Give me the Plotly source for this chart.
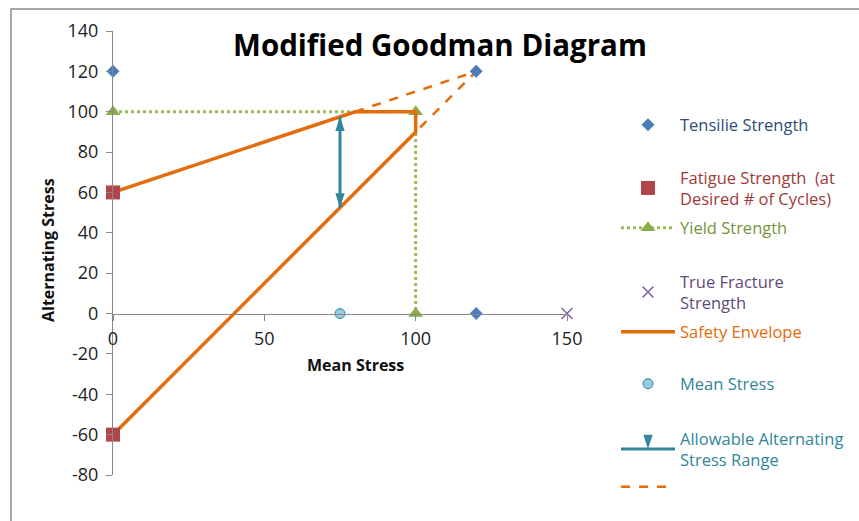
import plotly.graph_objects as go

# ---- data ----
tensile_x = [0, 120, 120]
tensile_y = [120, 0, 120]
fatigue_x = [0, 0]
fatigue_y = [60, -60]
yield_x = [0, 100, 100]
yield_y = [100, 100, 0]
fracture_x = [150]
fracture_y = [0]
safety_x = [0, 80, 100, 100, 0]
safety_y = [60, 100, 100, 90, -60]
mean_x = [75]
mean_y = [0]
range_x = [75, 75]
range_y = [52.5, 97.5]
dash_x = [80, 120, 100]
dash_y = [100, 120, 90]

x_ticks = [0, 50, 100, 150]
y_ticks = [-80, -60, -40, -20, 0, 20, 40, 60, 80, 100, 120, 140]

FONT = "Open Sans"
W, H = 859, 521
ML, MR, MT, MB = 113, 292, 31, 46
PW, PH = W - ML - MR, H - MT - MB


def px_x(p):
    return (p - ML) / PW


def px_y(p):
    return (H - MB - p) / PH


fig = go.Figure()

fig.add_trace(go.Scatter(x=dash_x, y=dash_y, mode="lines", name="",
                         line=dict(color="#E46C0A", width=2.5, dash="dash"),
                         legend="legend8", cliponaxis=False))
fig.add_trace(go.Scatter(x=yield_x, y=yield_y, mode="lines+markers", name="Yield Strength",
                         line=dict(color="#9BBB59", width=3, dash="dot"),
                         marker=dict(symbol="triangle-up", size=13, color="#8DAE4C"),
                         legend="legend3", cliponaxis=False))
fig.add_trace(go.Scatter(x=safety_x, y=safety_y, mode="lines", name="Safety Envelope",
                         line=dict(color="#E46C0A", width=3.5),
                         legend="legend5", cliponaxis=False))
fig.add_trace(go.Scatter(x=range_x, y=range_y, mode="lines+markers",
                         name="Allowable Alternating<br>Stress Range",
                         line=dict(color="#31859C", width=3),
                         marker=dict(symbol="arrow", size=15, angle=[180, 0], color="#31859C"),
                         legend="legend7", cliponaxis=False))
fig.add_trace(go.Scatter(x=tensile_x, y=tensile_y, mode="markers", name="Tensilie Strength",
                         marker=dict(symbol="diamond", size=10, color="#4A7EBB"),
                         legend="legend", cliponaxis=False))
fig.add_trace(go.Scatter(x=fatigue_x, y=fatigue_y, mode="markers",
                         name="Fatigue Strength  (at<br>Desired # of Cycles)",
                         marker=dict(symbol="square", size=14, color="#B0464A"),
                         legend="legend2", cliponaxis=False))
fig.add_trace(go.Scatter(x=fracture_x, y=fracture_y, mode="markers",
                         name="True Fracture<br>Strength",
                         marker=dict(symbol="x-thin", size=11,
                                     line=dict(color="#7D60A0", width=1.5)),
                         legend="legend4", cliponaxis=False))
fig.add_trace(go.Scatter(x=mean_x, y=mean_y, mode="markers", name="Mean Stress",
                         marker=dict(symbol="circle", size=10, color="#93CDDD",
                                     line=dict(color="#31859C", width=1)),
                         legend="legend6", cliponaxis=False))

legend_specs = [
    ("legend", 125, "#2C4D75"),
    ("legend2", 188, "#9E3A38"),
    ("legend3", 228, "#77933C"),
    ("legend4", 292, "#604A7B"),
    ("legend5", 332, "#E46C0A"),
    ("legend6", 384, "#31859C"),
    ("legend7", 449, "#31859C"),
    ("legend8", 487, "#E46C0A"),
]
legend_layout = {}
for key, py, col in legend_specs:
    legend_layout[key] = dict(
        x=px_x(616), y=px_y(py), xanchor="left", yanchor="middle",
        bgcolor="rgba(0,0,0,0)", borderwidth=0, itemwidth=54,
        font=dict(family=FONT, size=16.5, color=col), tracegroupgap=0,
    )

fig.update_layout(
    width=W, height=H,
    margin=dict(l=ML, r=MR, t=MT, b=MB, autoexpand=False),
    paper_bgcolor="white", plot_bgcolor="white",
    font=dict(family=FONT, size=16, color="#222"),
    title=dict(text="<b>Modified Goodman Diagram</b>", xref="container", x=440 / W,
               xanchor="center", y=1 - 46 / H, yanchor="middle",
               font=dict(family=FONT, size=29.5, color="black")),
    showlegend=True,
    xaxis=dict(range=[0, 150], tickvals=x_ticks, ticktext=[str(v) for v in x_ticks],
               anchor="free", automargin=False,
               position=(0 - y_ticks[0]) / (y_ticks[-1] - y_ticks[0]),
               showline=True, linecolor="#888", linewidth=1.2, ticks="outside",
               ticklen=6, tickcolor="#888", showgrid=False, zeroline=False,
               ticklabelstandoff=3,
               tickfont=dict(size=18, color="#222")),
    yaxis=dict(range=[-80, 140], tickvals=y_ticks, ticktext=[str(v) for v in y_ticks],
               automargin=False,
               showline=True, linecolor="#888",
               linewidth=1.2, ticks="outside", ticklen=6, tickcolor="#888",
               ticklabelstandoff=4,
               showgrid=False, zeroline=False, tickfont=dict(size=18, color="#222")),
    annotations=[
        dict(text="<b>Mean Stress</b>", xref="paper", yref="paper",
             x=px_x(355), y=px_y(365), xanchor="center", yanchor="middle",
             showarrow=False, font=dict(family=FONT, size=16, color="#111")),
        dict(text="<b>Alternating Stress</b>", xref="paper", yref="paper",
             x=px_x(48), y=px_y(250), xanchor="center", yanchor="middle", textangle=-90,
             showarrow=False, font=dict(family=FONT, size=16, color="#111")),
    ],
    shapes=[dict(type="rect", xref="paper", yref="paper",
                 x0=px_x(11), x1=px_x(W + 20), y0=px_y(H + 20), y1=px_y(9),
                 line=dict(color="#8C8C8C", width=1.5), layer="below")],
    **legend_layout,
)

fig.write_html("out.html", config={"displayModeBar": False},
               post_script="document.body.style.margin='0';document.body.style.overflow='hidden';")
